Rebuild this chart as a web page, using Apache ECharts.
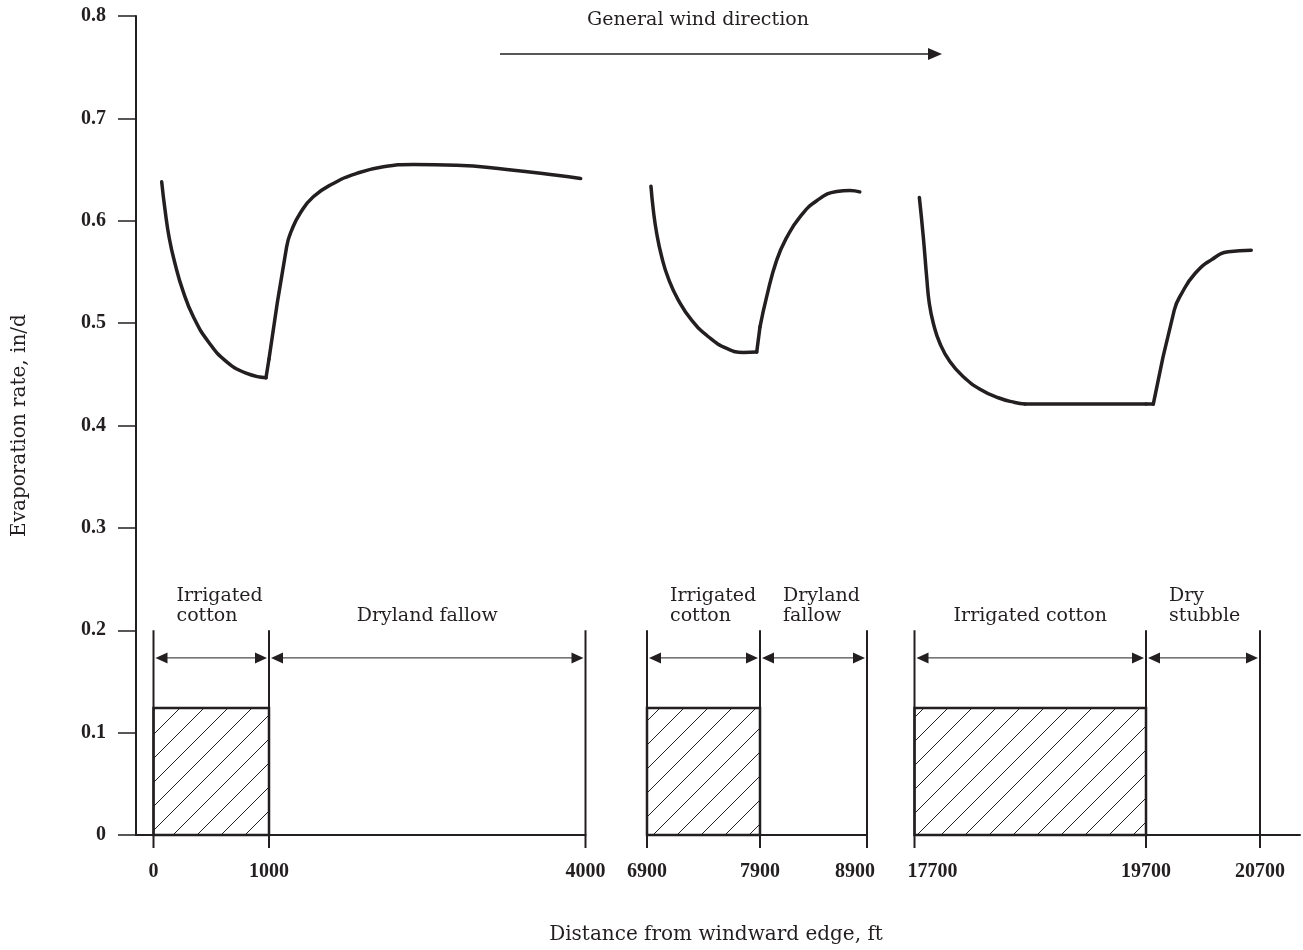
<!DOCTYPE html>
<html><head><meta charset="utf-8">
<script src="https://cdn.jsdelivr.net/npm/echarts@6/dist/echarts.min.js"></script>
<style>html,body{margin:0;padding:0;background:#fff}#c{width:1303px;height:950px}</style>
</head><body><div id="c"></div>
<script>
// ---------------- data ----------------
const yMin = 0, yMax = 0.8, yStep = 0.1;
const spanStart = [0, 1000, 6900, 7900, 17700, 19700];
const spanEnd   = [1000, 4000, 7900, 8900, 19700, 20700];
const spanLabels = ['Irrigated\ncotton', 'Dryland fallow', 'Irrigated\ncotton', 'Dryland\nfallow', 'Irrigated cotton', 'Dry\nstubble'];
const cropMarkHeight = [0.124, 0, 0.124, 0, 0.124, 0];
const spanArrowLevel = 0.173;
const boundaryTop = 0.2;
const xTickValues = [[0, 1000], [4000], [6900, 7900], [8900], [17700, 19700], [20700]];

const seg1Fall   = [[71,0.638],[100,0.6104],[137,0.5827],[186,0.5583],[253,0.5322],[345,0.5062],[475,0.4818],[634,0.4622],[807,0.4508],[974,0.4466]];
const seg1Jump   = [[974,0.4466],[1000,0.465]];
const seg1Fallow = [[1000,0.465],[1167,0.5745],[1215,0.5908],[1294,0.6071],[1420,0.6234],[1610,0.6364],[1831,0.6462],[2084,0.6527],[2368,0.6549],[2779,0.6543],[3253,0.6501],[3727,0.6445],[3954,0.6413]];
const seg2Fall   = [[6935,0.6338],[6956,0.6104],[6986,0.5876],[7030,0.5648],[7089,0.5436],[7177,0.5225],[7295,0.5029],[7443,0.4867],[7605,0.4753],[7753,0.4714],[7871,0.4717]];
const seg2Jump   = [[7871,0.4717],[7900,0.4964]];
const seg2Fallow = [[7900,0.4964],[7962,0.5257],[8056,0.5615],[8150,0.5837],[8274,0.6038],[8430,0.6195],[8617,0.6286],[8741,0.6296],[8832,0.6282]];
const seg3Fall   = [[17742,0.6227],[17776,0.5843],[17805,0.5452],[17828,0.5192],[17863,0.4997],[17920,0.4801],[18007,0.4622],[18122,0.4476],[18266,0.4355],[18424,0.4271],[18568,0.4225],[18655,0.4209]];
const seg3Flat   = [[18655,0.4209],[19700,0.4209]];
const seg3FlatB  = [[19700,0.4209],[19764,0.4209]];
const seg3Stubble= [[19764,0.4209],[19948,0.5127],[20013,0.529],[20130,0.5485],[20276,0.562],[20422,0.5697],[20623,0.5713]];

// which span (grid) each curve piece belongs to, and whether it is smoothed
const curvePieces = [
  [0, seg1Fall, true], [0, seg1Jump, false], [1, seg1Fallow, true],
  [2, seg2Fall, true], [2, seg2Jump, false], [3, seg2Fallow, true],
  [4, seg3Fall, true], [4, seg3Flat, false], [5, seg3FlatB, false], [5, seg3Stubble, true]
];

// ---------------- layout / style ----------------
const ink = '#231f20';
const FONT = '"DejaVu Serif", "Liberation Serif", serif';
const NUMFONT = '"Liberation Serif", "DejaVu Serif", serif';
const TOP = 16, BOTTOM = 115;
const spanPx = [[153.5,115.5],[269,316.5],[647,113],[760,107],[914.5,231.5],[1146,114]];
const tickRich = {
  l: { fontFamily: NUMFONT, fontWeight: 'bold', fontSize: 20, color: ink, padding: [0, 24, 0, 0] },
  r: { fontFamily: NUMFONT, fontWeight: 'bold', fontSize: 20, color: ink, padding: [0, 0, 0, 36] }
};
// crowded tick labels are nudged apart: 8900 to the left, 17700 to the right
function tickFormatter(v) {
  if (v === 8900) return '{l|' + v + '}';
  if (v === 17700) return '{r|' + v + '}';
  return String(v);
}

function makeHatch(){
  const c = document.createElement('canvas'); c.width = 24; c.height = 24;
  const g = c.getContext('2d');
  g.strokeStyle = ink; g.lineWidth = 1;
  g.beginPath();
  [0, 24, 48].forEach(k => { g.moveTo(-2, k + 2); g.lineTo(k + 2, -2); });
  g.stroke();
  return c;
}
const hatch = { image: makeHatch(), repeat: 'repeat' };

const grids = [], xAxes = [], yAxes = [], series = [];
// small leading piece (holds the y axis) and trailing piece of base line
grids.push({ left: 136, width: 17.5, top: TOP, bottom: BOTTOM });
xAxes.push({ gridIndex: 0, type: 'value', min: 0, max: 1, axisLine: { show: true, lineStyle: { color: ink, width: 2 } }, axisTick: { show: false }, axisLabel: { show: false }, splitLine: { show: false } });
yAxes.push({
  gridIndex: 0, type: 'value', min: yMin, max: yMax, interval: yStep,
  axisLine: { show: true, lineStyle: { color: ink, width: 2 } },
  axisTick: { show: true, length: 18, lineStyle: { color: ink, width: 1.5 } },
  axisLabel: { fontFamily: NUMFONT, fontWeight: 'bold', fontSize: 20, color: ink, margin: 30 },
  splitLine: { show: false },
  name: 'Evaporation rate, in/d', nameLocation: 'middle', nameGap: 106, nameRotate: 90,
  nameTextStyle: { fontFamily: FONT, fontSize: 20, color: ink }
});

spanStart.forEach((s, i) => {
  const gi = grids.length;
  grids.push({ left: spanPx[i][0], width: spanPx[i][1], top: TOP, bottom: BOTTOM });
  xAxes.push({
    gridIndex: gi, type: 'value', min: s, max: spanEnd[i],
    axisLine: { show: true, lineStyle: { color: ink, width: 2 } },
    axisTick: { show: false }, splitLine: { show: false },
    axisLabel: { customValues: xTickValues[i], formatter: tickFormatter, rich: tickRich, fontFamily: NUMFONT, fontWeight: 'bold', fontSize: 20, color: ink, margin: 27 }
  });
  yAxes.push({ gridIndex: gi, type: 'value', min: yMin, max: yMax, show: false });
  const segStart = (i === 0 || spanStart[i] !== spanEnd[i - 1]);
  series.push({
    type: 'custom', xAxisIndex: gi, yAxisIndex: gi, clip: false, silent: true,
    data: [[s, spanEnd[i], cropMarkHeight[i], segStart ? 1 : 0]],
    renderItem: function (params, api) {
      const x0 = api.value(0), x1 = api.value(1), h = api.value(2);
      const pL = api.coord([x0, 0]), pR = api.coord([x1, 0]);
      const yTop = api.coord([x0, boundaryTop])[1];
      const yA = api.coord([x0, spanArrowLevel])[1];
      const ch = [];
      if (h > 0) {
        const yh = api.coord([x0, h])[1];
        ch.push({ type: 'rect', shape: { x: pL[0], y: yh, width: pR[0] - pL[0], height: pL[1] - yh },
          style: { fill: hatch, stroke: ink, lineWidth: 2.5 } });
      }
      const xs = api.value(3) ? [pL[0], pR[0]] : [pR[0]];
      xs.forEach(x => ch.push({ type: 'line', shape: { x1: x, y1: yTop, x2: x, y2: pL[1] + 13 }, style: { stroke: ink, lineWidth: 2 } }));
      const a = pL[0] + 2, b = pR[0] - 2;
      ch.push({ type: 'line', shape: { x1: a + 4, y1: yA, x2: b - 4, y2: yA }, style: { stroke: ink, lineWidth: 1 } });
      ch.push({ type: 'polygon', shape: { points: [[a, yA], [a + 12, yA - 5.5], [a + 12, yA + 5.5]] }, style: { fill: ink } });
      ch.push({ type: 'polygon', shape: { points: [[b, yA], [b - 12, yA - 5.5], [b - 12, yA + 5.5]] }, style: { fill: ink } });
      const txt = spanLabels[i];
      const multi = txt.indexOf('\n') >= 0;
      ch.push({ type: 'text', x: multi ? pL[0] + 23 : (pL[0] + pR[0]) / 2, y: yTop - 4,
        style: { text: txt, fontFamily: FONT, fontSize: 19, fill: ink, align: multi ? 'left' : 'center', verticalAlign: 'bottom', lineHeight: 20 } });
      return { type: 'group', children: ch };
    }
  });
});

grids.push({ left: 1260, width: 40, top: TOP, bottom: BOTTOM });
xAxes.push({ gridIndex: grids.length - 1, type: 'value', min: 0, max: 1, axisLine: { show: true, lineStyle: { color: ink, width: 2 } }, axisTick: { show: false }, axisLabel: { show: false }, splitLine: { show: false } });
yAxes.push({ gridIndex: grids.length - 1, type: 'value', min: yMin, max: yMax, show: false });

curvePieces.forEach(([span, pts, smooth]) => {
  series.push({
    type: 'line', xAxisIndex: span + 1, yAxisIndex: span + 1, data: pts,
    smooth: smooth ? 0.5 : false, showSymbol: false, clip: false, silent: true,
    lineStyle: { color: ink, width: 3.5, cap: 'round', join: 'round' }
  });
});

const chart = echarts.init(document.getElementById('c'), null, { renderer: 'canvas' });
chart.setOption({
  backgroundColor: '#fff',
  animation: false,
  grid: grids, xAxis: xAxes, yAxis: yAxes, series: series,
  graphic: [
    { type: 'text', x: 698, y: 20, style: { text: 'General wind direction', fontFamily: FONT, fontSize: 19, fill: ink, align: 'center', verticalAlign: 'middle' } },
    { type: 'line', shape: { x1: 500, y1: 54, x2: 932, y2: 54 }, style: { stroke: ink, lineWidth: 1.5 } },
    { type: 'polygon', shape: { points: [[928, 48], [942, 54], [928, 60]] }, style: { fill: ink } },
    { type: 'text', x: 716, y: 935, style: { text: 'Distance from windward edge, ft', fontFamily: FONT, fontSize: 20, fill: ink, align: 'center', verticalAlign: 'middle' } }
  ]
});
</script>
</body></html>
